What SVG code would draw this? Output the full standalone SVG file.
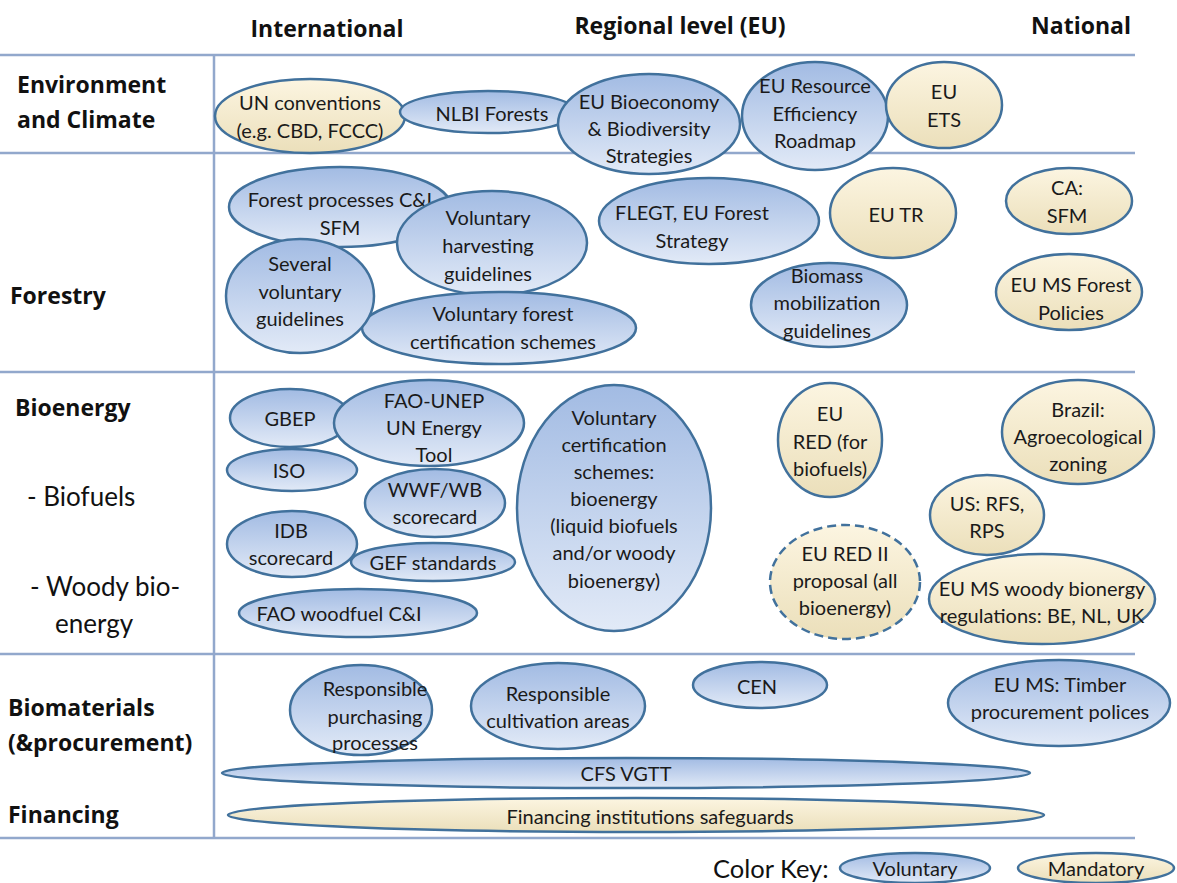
<svg xmlns="http://www.w3.org/2000/svg" width="1177" height="883" viewBox="0 0 1177 883">
<defs>
<linearGradient id="gv" x1="0" y1="0" x2="0" y2="1"><stop offset="0" stop-color="#a2bbe3"/><stop offset="1" stop-color="#e2eaf7"/></linearGradient>
<linearGradient id="gm" x1="0" y1="0" x2="0" y2="1"><stop offset="0" stop-color="#fcf5e1"/><stop offset="1" stop-color="#ebdfba"/></linearGradient>
<style>
.v{fill:url(#gv);stroke:#41719c;stroke-width:2.5}
.m{fill:url(#gm);stroke:#41719c;stroke-width:2.5}
.d{stroke-dasharray:9 5}
text{font-family:Lato,"Open Sans","Liberation Sans",sans-serif;fill:#1a1a1a}
.t{font-size:20px;text-anchor:middle;dominant-baseline:central}
.h{font-family:"Open Sans",Lato,sans-serif;font-size:23px;font-weight:bold;text-anchor:middle;fill:#111}
.l{font-family:"Open Sans",Lato,sans-serif;font-size:23px;font-weight:bold;fill:#111}
.lr{font-size:26px;fill:#111}
.grid{stroke:#92a8cc;stroke-width:2.5;fill:none}
</style>
</defs>
<rect width="1177" height="883" fill="#ffffff"/>
<g id="grid">
<line class="grid" x1="0" y1="55" x2="1135" y2="55"/>
<line class="grid" x1="0" y1="153" x2="1135" y2="153"/>
<line class="grid" x1="0" y1="372" x2="1135" y2="372"/>
<line class="grid" x1="0" y1="654" x2="1135" y2="654"/>
<line class="grid" x1="0" y1="838" x2="1135" y2="838"/>
<line class="grid" x1="214" y1="55" x2="214" y2="838"/>
</g>
<g id="headers">
<text class="h" x="327" y="37">International</text>
<text class="h" x="680" y="34">Regional level (EU)</text>
<text class="h" x="1081" y="34">National</text>
<text class="l" x="17" y="93">Environment</text>
<text class="l" x="17" y="128">and Climate</text>
<text class="l" x="10" y="304">Forestry</text>
<text class="l" x="15" y="416">Bioenergy</text>
<text class="lr" x="27" y="506">- Biofuels</text>
<text class="lr" x="30" y="596">- Woody bio-</text>
<text class="lr" x="55" y="633">energy</text>
<text class="l" x="8" y="716">Biomaterials</text>
<text class="l" x="8" y="751">(&amp;procurement)</text>
<text class="l" x="8" y="823">Financing</text>
</g>
<g id="connectors"></g>
<g id="n-un"><ellipse class="m" cx="310" cy="116" rx="95" ry="37"/><text class="t" x="310" y="102">UN conventions</text><text class="t" x="310" y="130">(e.g. CBD, FCCC)</text></g>
<g id="n-nlbi"><ellipse class="v" cx="488" cy="112" rx="88" ry="21"/><text class="t" x="492" y="113">NLBI Forests</text></g>
<g id="n-bioeco"><ellipse class="v" cx="649" cy="124" rx="91" ry="50"/><text class="t" x="649" y="101">EU Bioeconomy</text><text class="t" x="649" y="128">&amp; Biodiversity</text><text class="t" x="649" y="155">Strategies</text></g>
<g id="n-resource"><ellipse class="v" cx="815" cy="116" rx="73" ry="54"/><text class="t" x="815" y="85">EU Resource</text><text class="t" x="815" y="113">Efficiency</text><text class="t" x="815" y="140">Roadmap</text></g>
<g id="n-ets"><ellipse class="m" cx="944" cy="105" rx="58" ry="43"/><text class="t" x="944" y="91">EU</text><text class="t" x="944" y="119">ETS</text></g>

<g id="n-fpci"><ellipse class="v" cx="340" cy="207" rx="111" ry="40"/><text class="t" x="340" y="199">Forest processes C&amp;I</text><text class="t" x="340" y="227">SFM</text></g>
<g id="n-harv"><ellipse class="v" cx="492" cy="243" rx="95" ry="52"/><text class="t" x="488" y="217">Voluntary</text><text class="t" x="488" y="245">harvesting</text><text class="t" x="488" y="273">guidelines</text></g>
<g id="n-cert"><ellipse class="v" cx="499" cy="328" rx="137" ry="36"/><text class="t" x="503" y="313">Voluntary forest</text><text class="t" x="503" y="341">certification schemes</text></g>
<g id="n-several"><ellipse class="v" cx="300" cy="296" rx="74" ry="57"/><text class="t" x="300" y="263">Several</text><text class="t" x="300" y="291">voluntary</text><text class="t" x="300" y="318">guidelines</text></g>
<g id="n-flegt"><ellipse class="v" cx="709" cy="221" rx="110" ry="43"/><text class="t" x="692" y="212">FLEGT, EU Forest</text><text class="t" x="692" y="240">Strategy</text></g>
<g id="n-eutr"><ellipse class="m" cx="893" cy="213" rx="63" ry="45"/><text class="t" x="896" y="214">EU TR</text></g>
<g id="n-biomass"><ellipse class="v" cx="829" cy="305" rx="78" ry="42"/><text class="t" x="827" y="275">Biomass</text><text class="t" x="827" y="302">mobilization</text><text class="t" x="827" y="330">guidelines</text></g>
<g id="n-ca"><ellipse class="m" cx="1069" cy="201" rx="63" ry="33"/><text class="t" x="1067" y="187">CA:</text><text class="t" x="1067" y="215">SFM</text></g>
<g id="n-msforest"><ellipse class="m" cx="1069" cy="292" rx="73" ry="38"/><text class="t" x="1071" y="284">EU MS Forest</text><text class="t" x="1071" y="312">Policies</text></g>

<g id="n-gbep"><ellipse class="v" cx="290" cy="418" rx="60" ry="29"/><text class="t" x="290" y="418">GBEP</text></g>
<g id="n-faounep"><ellipse class="v" cx="429" cy="423" rx="95" ry="43"/><text class="t" x="434" y="400">FAO-UNEP</text><text class="t" x="434" y="427">UN Energy</text><text class="t" x="434" y="454">Tool</text></g>
<g id="n-iso"><ellipse class="v" cx="292" cy="470" rx="65" ry="21"/><text class="t" x="289" y="470">ISO</text></g>
<g id="n-wwf"><ellipse class="v" cx="435" cy="503" rx="70" ry="34"/><text class="t" x="435" y="489">WWF/WB</text><text class="t" x="435" y="516">scorecard</text></g>
<g id="n-idb"><ellipse class="v" cx="292" cy="544" rx="65" ry="33"/><text class="t" x="291" y="530">IDB</text><text class="t" x="291" y="557">scorecard</text></g>
<g id="n-gef"><ellipse class="v" cx="433" cy="562" rx="82" ry="19"/><text class="t" x="433" y="562">GEF standards</text></g>
<g id="n-faowood"><ellipse class="v" cx="358" cy="613" rx="119" ry="24"/><text class="t" x="339" y="613">FAO woodfuel C&amp;I</text></g>
<g id="n-volcert"><ellipse class="v" cx="614" cy="508" rx="97" ry="123"/><text class="t" x="614" y="417">Voluntary</text><text class="t" x="614" y="444">certification</text><text class="t" x="614" y="471">schemes:</text><text class="t" x="614" y="498">bioenergy</text><text class="t" x="614" y="525">(liquid biofuels</text><text class="t" x="614" y="552">and/or woody</text><text class="t" x="614" y="580">bioenergy)</text></g>
<g id="n-red"><ellipse class="m" cx="830" cy="440" rx="52" ry="57"/><text class="t" x="830" y="413">EU</text><text class="t" x="830" y="441">RED (for</text><text class="t" x="830" y="468">biofuels)</text></g>
<g id="n-red2"><ellipse class="m d" cx="845" cy="582" rx="75" ry="57"/><text class="t" x="845" y="553">EU RED II</text><text class="t" x="845" y="580">proposal (all</text><text class="t" x="845" y="607">bioenergy)</text></g>
<g id="n-brazil"><ellipse class="m" cx="1078" cy="432" rx="76" ry="52"/><text class="t" x="1078" y="409">Brazil:</text><text class="t" x="1078" y="436">Agroecological</text><text class="t" x="1078" y="463">zoning</text></g>
<g id="n-us"><ellipse class="m" cx="987" cy="515" rx="57" ry="40"/><text class="t" x="987" y="503">US: RFS,</text><text class="t" x="987" y="530">RPS</text></g>
<g id="n-mswoody"><ellipse class="m" cx="1042" cy="599" rx="113" ry="45"/><text class="t" x="1042" y="588">EU MS woody bionergy</text><text class="t" x="1042" y="615">regulations: BE, NL, UK</text></g>

<g id="n-purch"><ellipse class="v" cx="361" cy="710" rx="71" ry="45"/><text class="t" x="375" y="688">Responsible</text><text class="t" x="375" y="716">purchasing</text><text class="t" x="375" y="742">processes</text></g>
<g id="n-cult"><ellipse class="v" cx="558" cy="706" rx="87" ry="43"/><text class="t" x="558" y="693">Responsible</text><text class="t" x="558" y="720">cultivation areas</text></g>
<g id="n-cen"><ellipse class="v" cx="760" cy="685" rx="67" ry="23"/><text class="t" x="757" y="686">CEN</text></g>
<g id="n-timber"><ellipse class="v" cx="1059" cy="703" rx="111" ry="43"/><text class="t" x="1060" y="684">EU MS: Timber</text><text class="t" x="1060" y="711">procurement polices</text></g>
<g id="n-cfs"><ellipse class="v" cx="626" cy="773" rx="404" ry="15"/><text class="t" x="626" y="773">CFS  VGTT</text></g>
<g id="n-fin"><ellipse class="m" cx="636" cy="815" rx="408" ry="17"/><text class="t" x="650" y="816">Financing institutions safeguards</text></g>

<g id="legend">
<text x="713" y="878" style="font-size:25.5px;fill:#111">Color Key:</text>
<ellipse class="v" cx="915" cy="868" rx="75" ry="15"/><text class="t" x="915" y="868">Voluntary</text>
<ellipse class="m" cx="1096" cy="868" rx="78" ry="15"/><text class="t" x="1096" y="868">Mandatory</text>
</g>
</svg>
